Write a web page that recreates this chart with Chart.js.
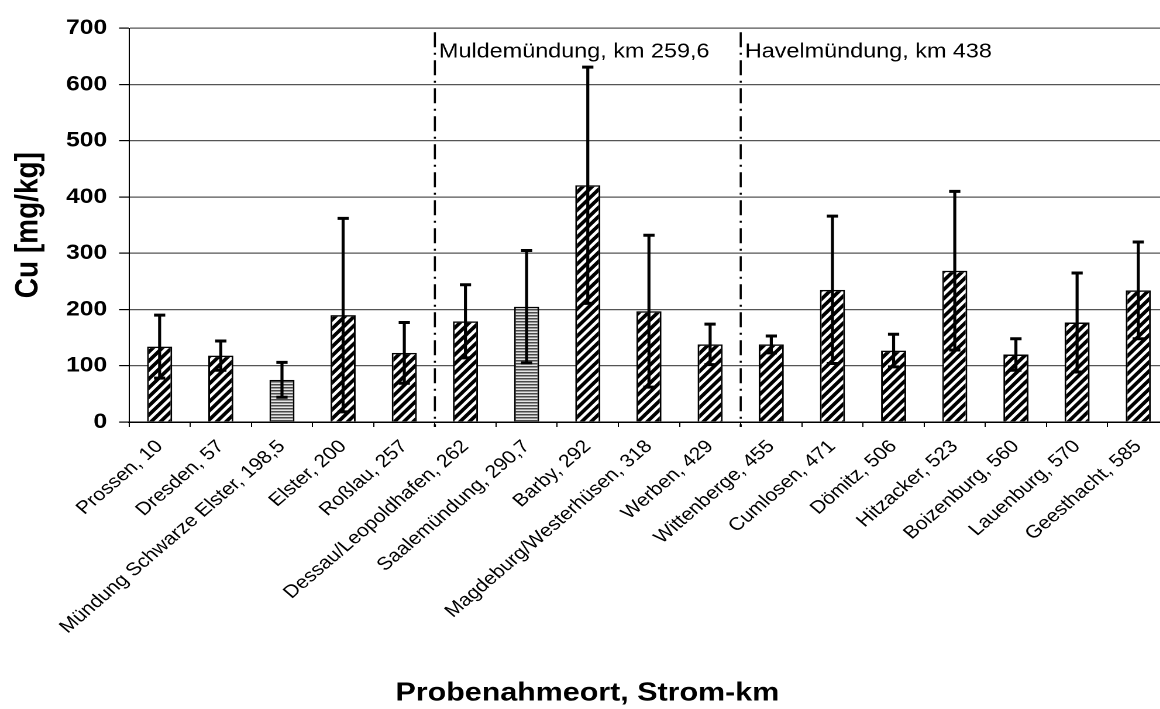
<!DOCTYPE html>
<html>
<head>
<meta charset="utf-8">
<script src="https://cdn.jsdelivr.net/npm/chart.js@4"></script>
<style>
  body { margin: 0; background: #fff; overflow: hidden; }
  /* the reference is stretched sideways, so the whole chart is drawn narrow and scaled */
  #wrap { width: 1000px; height: 709px; transform: scaleX(1.17); transform-origin: 0 0; }
</style>
</head>
<body>
<div id="wrap"><canvas id="cuChart" width="1000" height="709"></canvas></div>
<script>
// sampling sites along the Elbe (name, river km)
const stations = [
  "Prossen, 10", "Dresden, 57", "Mündung Schwarze Elster, 198,5", "Elster, 200",
  "Roßlau, 257", "Dessau/Leopoldhafen, 262", "Saalemündung, 290,7", "Barby, 292",
  "Magdeburg/Westerhüsen, 318", "Werben, 429", "Wittenberge, 455", "Cumlosen, 471",
  "Dömitz, 506", "Hitzacker, 523", "Boizenburg, 560", "Lauenburg, 570", "Geesthacht, 585"
];
// Cu mean and standard deviation [mg/kg]
const cuMean = [134, 118, 75, 190, 123, 179, 205, 421, 197, 138, 138, 235, 127, 269, 120, 177, 234];
const cuStd = [56, 26, 31, 172, 54, 65, 100, 210, 135, 36, 15, 131, 29, 141, 28, 88, 86];
// y axis ticks
const yMin = 0, yMax = 700, yStep = 100;
// tributary mouths, drawn after the station with this index
const mouthAfter = [4, 9];
const mouthLabels = ["Muldemündung, km 259,6", "Havelmündung, km 438"];
// tributary samples get the horizontal stripe fill
const tributaryIdx = [2, 6];

const FONT = "'Liberation Sans', Arial, sans-serif";

function hatchPattern() {
  const c = document.createElement("canvas");
  const w = 16, h = 18; // 2x tile
  c.width = w; c.height = h;
  const g = c.getContext("2d");
  g.fillStyle = "#fff";
  g.fillRect(0, 0, w, h);
  g.strokeStyle = "#000";
  g.lineWidth = 6.6;
  for (let k = 0; k <= 2; k++) {
    g.beginPath();
    g.moveTo(-w, h * (k + 1));
    g.lineTo(2 * w, h * (k - 2));
    g.stroke();
  }
  const p = document.createElement("canvas").getContext("2d").createPattern(c, "repeat");
  p.setTransform(new DOMMatrix().scale(0.5));
  return p;
}

function stripePattern() {
  const c = document.createElement("canvas");
  c.width = 2; c.height = 6;
  const g = c.getContext("2d");
  g.fillStyle = "#e4e4e4";
  g.fillRect(0, 0, 2, 6);
  g.fillStyle = "#4a4a4a";
  g.fillRect(0, 0, 2, 3);
  const p = document.createElement("canvas").getContext("2d").createPattern(c, "repeat");
  p.setTransform(new DOMMatrix().scale(0.5));
  return p;
}

const hatch = hatchPattern();
const stripes = stripePattern();
const fills = stations.map((s, i) => (tributaryIdx.includes(i) ? stripes : hatch));

// error bars (mean +/- sd)
const errorBars = {
  id: "errorBars",
  afterDatasetsDraw(chart) {
    const { ctx, scales: { y } } = chart;
    const bars = chart.getDatasetMeta(0).data;
    ctx.save();
    ctx.strokeStyle = "#000";
    bars.forEach((bar, i) => {
      const top = y.getPixelForValue(cuMean[i] + cuStd[i]);
      const bottom = y.getPixelForValue(cuMean[i] - cuStd[i]);
      ctx.lineWidth = 2.6;
      ctx.beginPath();
      ctx.moveTo(bar.x, top);
      ctx.lineTo(bar.x, bottom);
      ctx.stroke();
      ctx.lineWidth = 3;
      ctx.beginPath();
      ctx.moveTo(bar.x - 4.8, top);
      ctx.lineTo(bar.x + 4.8, top);
      ctx.moveTo(bar.x - 4.8, bottom);
      ctx.lineTo(bar.x + 4.8, bottom);
      ctx.stroke();
    });
    ctx.restore();
  }
};

// dash-dot lines for the tributary mouths
const mouthLines = {
  id: "mouthLines",
  afterDatasetsDraw(chart) {
    const { ctx, chartArea, scales: { x } } = chart;
    ctx.save();
    mouthAfter.forEach((idx, i) => {
      const px = (x.getPixelForValue(idx) + x.getPixelForValue(idx + 1)) / 2;
      ctx.strokeStyle = "#000";
      ctx.lineWidth = 1.8;
      ctx.setLineDash([15, 5.5, 2, 5.5]);
      ctx.beginPath();
      ctx.moveTo(px, chartArea.top + 4);
      ctx.lineTo(px, chartArea.bottom + 5);
      ctx.stroke();
      ctx.setLineDash([]);
      ctx.fillStyle = "#000";
      ctx.font = "20px " + FONT;
      ctx.textAlign = "left";
      ctx.textBaseline = "alphabetic";
      ctx.fillText(mouthLabels[i], px + 3.5, chartArea.top + 29);
    });
    ctx.restore();
  }
};

new Chart(document.getElementById("cuChart"), {
  type: "bar",
  data: {
    labels: stations,
    datasets: [{
      data: cuMean,
      backgroundColor: fills,
      borderColor: "#000",
      borderWidth: 1.5,
      barPercentage: 0.41,
      categoryPercentage: 1
    }]
  },
  options: {
    responsive: false,
    animation: false,
    devicePixelRatio: 2,
    layout: { padding: { left: 5, right: 1, top: 28.3, bottom: 0 } },
    plugins: {
      legend: { display: false },
      tooltip: { enabled: false },
      title: {
        display: true,
        position: "bottom",
        text: "Probenahmeort, Strom-km",
        color: "#000",
        font: { family: FONT, size: 26, weight: "bold" },
        padding: { top: 0, bottom: 0 }
      }
    },
    scales: {
      x: {
        afterFit: (scale) => { scale.height = 255.8; },
        grid: { drawOnChartArea: false, drawTicks: true, tickLength: 5, tickColor: "#000", offset: true },
        border: { display: true, color: "#000", width: 1.5 },
        ticks: {
          autoSkip: false,
          minRotation: 45,
          maxRotation: 45,
          padding: 9,
          color: "#000",
          font: { family: FONT, size: 18 }
        }
      },
      y: {
        min: yMin,
        max: yMax,
        afterFit: (scale) => { scale.width = 105.3; },
        grid: { color: "#555", lineWidth: 1.2, tickLength: 8.5, tickColor: "#000" },
        border: { display: true, color: "#000", width: 1 },
        ticks: {
          stepSize: yStep,
          padding: 10.3,
          color: "#000",
          font: { family: FONT, size: 21, weight: "bold" }
        },
        title: {
          display: true,
          text: "Cu [mg/kg]",
          color: "#000",
          font: { family: FONT, size: 28, weight: "bold" },
          padding: { top: 2.4, bottom: 0 }
        }
      }
    }
  },
  plugins: [errorBars, mouthLines]
});
</script>
</body>
</html>
